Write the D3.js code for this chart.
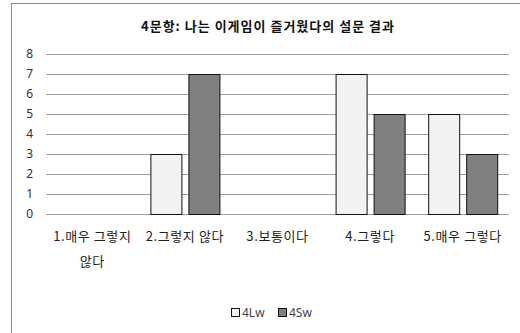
<!DOCTYPE html>
<html>
<head>
<meta charset="utf-8">
<script src="https://cdn.jsdelivr.net/npm/d3@7"></script>
<style>
  body { margin: 0; background: #fff; }
  text { font-family: "Noto Sans CJK KR", "Noto Sans", sans-serif; }
</style>
</head>
<body>
<svg id="chart" width="520" height="333"></svg>
<script>
// chart values
let categories = ["1.매우 그렇지 않다", "2.그렇지 않다", "3.보통이다", "4.그렇다", "5.매우 그렇다"];
let seriesNames = ["4Lw", "4Sw"];
let valuesLw = [0, 3, 0, 7, 5];
let valuesSw = [0, 7, 0, 5, 3];
let yTicks = [0, 1, 2, 3, 4, 5, 6, 7, 8];
let title = "4문항: 나는 이게임이 즐거웠다의 설문 결과";

let colors = {"4Lw": "#f2f2f2", "4Sw": "#808080"};

let svg = d3.select("#chart");

// outer frame (cut off on the right and bottom, like the picture)
svg.append("rect")
    .attr("x", 11.5).attr("y", 3.5)
    .attr("width", 540).attr("height", 360)
    .attr("fill", "#fff")
    .attr("stroke", "#8c8c8c");

let plotLeft = 46, plotRight = 509, plotTop = 54, plotBottom = 214;

let x = d3.scaleBand()
    .domain(categories)
    .range([plotLeft, plotRight]);

let xInner = d3.scaleBand()
    .domain(seriesNames)
    .range([0, x.bandwidth()])
    .paddingInner(0.184)
    .paddingOuter(0.31);

let y = d3.scaleLinear()
    .domain([0, 8])
    .range([plotBottom, plotTop]);

// gridlines + y labels
let yAxis = svg.append("g")
    .attr("transform", "translate(" + plotLeft + ",0)")
    .call(d3.axisLeft(y).tickValues(yTicks).tickSize(-(plotRight - plotLeft)).tickPadding(13));
yAxis.select(".domain").remove();
yAxis.selectAll("line").attr("stroke", "#a0a0a0");
yAxis.selectAll("text")
    .attr("font-size", 12)
    .attr("fill", "#333")
    .style("font-family", "'Noto Sans', sans-serif");

// bars
let rows = categories.map(function(c, i) {
    return {cat: c, vals: [{s: "4Lw", v: valuesLw[i]}, {s: "4Sw", v: valuesSw[i]}]};
});

let groups = svg.selectAll(".grp")
    .data(rows)
    .enter()
    .append("g")
    .attr("transform", d => "translate(" + x(d.cat) + ",0)");

groups.selectAll("rect")
    .data(d => d.vals.filter(e => e.v > 0))
    .enter()
    .append("rect")
    .attr("x", d => xInner(d.s) + 0.5)
    .attr("y", d => y(d.v) + 0.5)
    .attr("width", xInner.bandwidth())
    .attr("height", d => y(0) - y(d.v))
    .attr("fill", d => colors[d.s])
    .attr("stroke", "#111")
    .attr("stroke-width", 1);

// category labels, wrapped to the band width
svg.selectAll(".cat")
    .data(categories)
    .enter()
    .append("text")
    .attr("class", "cat")
    .attr("x", d => x(d) + x.bandwidth() / 2)
    .attr("y", 241)
    .attr("text-anchor", "middle")
    .attr("font-size", 13)
    .attr("letter-spacing", 0.6)
    .attr("fill", "#222")
    .each(function(d) {
        let t = d3.select(this);
        let words = d.split(" ");
        let line = [];
        let tspan = t.append("tspan").attr("x", x(d) + x.bandwidth() / 2).attr("dy", 0);
        words.forEach(function(w) {
            line.push(w);
            tspan.text(line.join(" "));
            if (tspan.node().getComputedTextLength() > x.bandwidth() - 2 && line.length > 1) {
                line.pop();
                tspan.text(line.join(" "));
                line = [w];
                tspan = t.append("tspan")
                    .attr("x", x(d) + x.bandwidth() / 2)
                    .attr("dy", 25)
                    .text(w);
            }
        });
    });

// title
svg.append("text")
    .attr("x", 268)
    .attr("y", 31)
    .attr("text-anchor", "middle")
    .attr("font-size", 13)
    .attr("font-weight", "bold")
    .attr("letter-spacing", 1)
    .attr("fill", "#111")
    .text(title);

// legend
let legendX = [231, 278];
let legend = svg.selectAll(".leg")
    .data(seriesNames)
    .enter()
    .append("g")
    .attr("transform", (d, i) => "translate(" + legendX[i] + ",308)");

legend.append("rect")
    .attr("x", 0.5).attr("y", 0.5)
    .attr("width", 8).attr("height", 8)
    .attr("fill", d => colors[d])
    .attr("stroke", "#111");

legend.append("text")
    .attr("x", 11)
    .attr("y", 9)
    .attr("font-size", 12)
    .attr("fill", "#444")
    .style("font-family", "'Noto Sans', sans-serif")
    .text(d => d);
</script>
</body>
</html>
